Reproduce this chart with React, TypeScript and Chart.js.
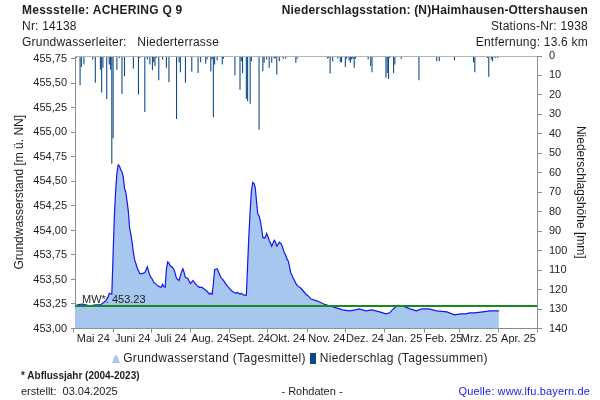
import React, { useEffect, useRef } from 'react';
import { Chart, registerables } from 'chart.js';

Chart.register(...registerables);

// Day offsets counted from 1 May 2024 (0 = 1 May 2024)
const monthStartDays = [0, 31, 61, 92, 123, 153, 184, 214, 245, 276, 304, 335, 365];
const monthLabels = ['Mai 24', 'Juni 24', 'Juli 24', 'Aug. 24', 'Sept. 24', 'Okt. 24', 'Nov. 24', 'Dez. 24', 'Jan. 25', 'Feb. 25', 'Mrz. 25', 'Apr. 25'];
const levelTicks = [453.0, 453.25, 453.5, 453.75, 454.0, 454.25, 454.5, 454.75, 455.0, 455.25, 455.5, 455.75];
const rainTicks = [0, 10, 20, 30, 40, 50, 60, 70, 80, 90, 100, 110, 120, 130, 140];
const MW = 453.23;

const gwDays = [1, 4, 7, 10, 13, 17, 21, 23, 25, 27, 28, 30, 31, 32, 33, 34, 35, 36, 37, 38, 39, 40, 41, 42, 43, 44, 45, 46, 47, 48, 49, 50, 51, 52, 54, 56, 57, 58, 59, 60, 62, 63, 65, 67, 69, 70, 71, 72, 73, 74, 75, 76, 78, 79, 80, 81, 83, 85, 86, 87, 88, 90, 91, 92, 94, 95, 97, 99, 101, 103, 105, 107, 108, 109, 110, 111, 113, 114, 116, 118, 120, 122, 124, 126, 128, 129, 131, 132, 134, 136, 137, 138, 139, 140, 141, 142, 143, 144, 145, 146, 147, 148, 149, 150, 151, 152, 153, 154, 155, 156, 157, 158, 159, 160, 161, 162, 163, 164, 165, 166, 167, 168, 169, 170, 171, 172, 173, 174, 175, 176, 177, 179, 181, 183, 185, 187, 192, 197, 202, 207, 212, 217, 222, 225, 230, 235, 241, 246, 249, 251, 255, 259, 265, 270, 274, 280, 286, 294, 300, 305, 309, 312, 316, 328, 335];
const gwLevels = [453.23, 453.245, 453.25, 453.24, 453.23, 453.24, 453.24, 453.26, 453.28, 453.32, 453.36, 453.35, 453.75, 454.14, 454.40, 454.58, 454.67, 454.66, 454.62, 454.60, 454.55, 454.43, 454.39, 454.30, 454.20, 454.03, 453.96, 453.88, 453.78, 453.70, 453.66, 453.62, 453.59, 453.56, 453.56, 453.57, 453.60, 453.63, 453.58, 453.54, 453.50, 453.47, 453.45, 453.43, 453.42, 453.45, 453.43, 453.42, 453.60, 453.68, 453.67, 453.64, 453.62, 453.60, 453.56, 453.51, 453.49, 453.58, 453.61, 453.57, 453.52, 453.51, 453.48, 453.46, 453.49, 453.47, 453.44, 453.42, 453.42, 453.40, 453.38, 453.35, 453.36, 453.35, 453.45, 453.60, 453.61, 453.58, 453.52, 453.49, 453.45, 453.42, 453.39, 453.37, 453.36, 453.37, 453.35, 453.36, 453.34, 453.34, 453.65, 453.95, 454.20, 454.40, 454.49, 454.48, 454.44, 454.30, 454.17, 454.15, 454.10, 454.02, 453.93, 453.92, 453.93, 453.97, 453.94, 453.90, 453.87, 453.84, 453.87, 453.90, 453.88, 453.84, 453.86, 453.88, 453.87, 453.85, 453.81, 453.77, 453.75, 453.71, 453.69, 453.63, 453.57, 453.54, 453.51, 453.49, 453.46, 453.44, 453.43, 453.41, 453.38, 453.35, 453.33, 453.30, 453.28, 453.25, 453.23, 453.21, 453.19, 453.18, 453.19, 453.20, 453.18, 453.19, 453.17, 453.15, 453.16, 453.19, 453.235, 453.23, 453.20, 453.18, 453.20, 453.20, 453.18, 453.17, 453.14, 453.15, 453.15, 453.16, 453.16, 453.18, 453.18];

const rainDays = [2, 5, 6, 8, 15, 17, 21, 22, 23, 26, 28, 29, 30, 31, 34, 36, 38, 40, 47, 51, 52, 56, 58, 60, 62, 63, 64, 65, 67, 70, 73, 75, 81, 83, 84, 88, 93, 98, 100, 104, 105, 108, 109, 110, 111, 113, 117, 118, 127, 131, 132, 133, 136, 137, 139, 140, 146, 149, 150, 152, 154, 156, 158, 159, 160, 162, 165, 167, 175, 176, 194, 197, 200, 201, 202, 204, 208, 210, 211, 214, 215, 217, 218, 219, 220, 221, 222, 228, 232, 234, 235, 236, 246, 247, 248, 249, 251, 252, 253, 258, 267, 272, 275, 284, 286, 288, 290, 300, 301, 313, 315, 316, 320, 326, 327, 329, 330, 332, 334];
const rainMm = [1.0, 15.0, 5.6, 4.4, 1.8, 13.8, 7.0, 18.7, 6.1, 22.1, 4.4, 7.0, 55.4, 42.2, 7.0, 1.0, 19.5, 10.4, 6.6, 19.8, 1.0, 28.8, 1.8, 4.4, 7.3, 3.2, 5.2, 1.0, 12.5, 1.8, 6.1, 13.5, 32.4, 3.2, 8.3, 13.8, 8.0, 8.7, 3.2, 4.0, 1.8, 8.0, 1.8, 31.5, 4.4, 2.2, 4.4, 1.4, 9.9, 17.3, 2.7, 8.7, 21.9, 23.3, 24.5, 2.7, 37.9, 7.8, 3.5, 1.8, 6.1, 3.5, 1.4, 1.0, 9.5, 2.7, 1.4, 1.4, 3.5, 1.4, 0.5, 0.5, 1.3, 1.0, 9.0, 2.7, 1.3, 3.2, 3.2, 5.6, 1.4, 2.3, 3.5, 1.8, 1.4, 6.1, 1.4, 0.3, 1.8, 5.2, 8.3, 0.5, 11.2, 8.7, 11.8, 1.0, 0.3, 8.7, 4.4, 1.4, 0.3, 12.5, 0.3, 0.3, 2.7, 2.7, 0.3, 2.2, 0.5, 0.3, 3.2, 8.3, 0.3, 1.0, 10.7, 1.8, 2.7, 1.0, 1.0];

const FONT = "'Liberation Sans', Arial, Helvetica, sans-serif";
const AXIS_GRAY = '#8c8c8c';
const TEXT = '#1e1e1e';
const GW_FILL = '#a7c7ee';
const GW_LINE = '#1515f0';
const RAIN = '#0b4a88';
const MW_GREEN = '#198a1e';

const topBorderAndLabel = {
  id: 'topBorderAndLabel',
  afterDatasetsDraw(chart: any) {
    const { ctx, chartArea, scales } = chart;
    ctx.save();
    ctx.strokeStyle = '#b4b4b4';
    ctx.lineWidth = 1;
    ctx.beginPath();
    ctx.moveTo(chartArea.left, Math.round(chartArea.top) + 0.5);
    ctx.lineTo(chartArea.right, Math.round(chartArea.top) + 0.5);
    ctx.stroke();
    const y = scales.y.getPixelForValue(MW);
    ctx.fillStyle = TEXT;
    ctx.font = `11px ${FONT}`;
    ctx.textAlign = 'left';
    ctx.textBaseline = 'alphabetic';
    ctx.fillText(`MW*: ${MW.toFixed(2)}`, chartArea.left + 7, y - 3);
    ctx.restore();
  },
};

export default function App() {
  const canvasRef = useRef<HTMLCanvasElement | null>(null);

  useEffect(() => {
    if (!canvasRef.current) return;
    Chart.defaults.font.family = FONT;
    const gwData = gwDays.map((d, i) => ({ x: d, y: gwLevels[i] }));
    const rainData = rainDays.map((d, i) => ({ x: d, y: rainMm[i] }));
    const chart = new Chart(canvasRef.current, {
      type: 'line',
      data: {
        datasets: [
          {
            type: 'bar',
            label: 'Niederschlag (Tagessummen)',
            data: rainData as any,
            xAxisID: 'x',
            yAxisID: 'y2',
            backgroundColor: RAIN,
            borderWidth: 0,
            barPercentage: 0.85,
            categoryPercentage: 1,
            order: 0,
          } as any,
          {
            type: 'line',
            label: 'MW',
            data: [{ x: monthStartDays[0] + 1, y: MW }, { x: monthStartDays[monthStartDays.length - 1], y: MW }],
            xAxisID: 'x',
            yAxisID: 'y',
            borderColor: MW_GREEN,
            borderWidth: 2,
            pointRadius: 0,
            fill: false,
            order: 1,
          },
          {
            type: 'line',
            label: 'Grundwasserstand (Tagesmittel)',
            data: gwData,
            xAxisID: 'x',
            yAxisID: 'y',
            borderColor: GW_LINE,
            borderWidth: 1.2,
            backgroundColor: GW_FILL,
            fill: 'start',
            pointRadius: 0,
            tension: 0,
            order: 2,
          },
        ],
      },
      options: {
        animation: false,
        responsive: false,
        devicePixelRatio: 1,
        layout: { padding: { top: 56, bottom: 51.5, left: 0, right: 0 } },
        plugins: { legend: { display: false }, tooltip: { enabled: false } },
        scales: {
          x: {
            type: 'linear',
            min: 1,
            max: 365,
            offset: false,
            afterBuildTicks: (s: any) => {
              s.ticks = monthStartDays.map((v) => ({ value: v }));
            },
            afterFit: (s: any) => {
              s.height = 20;
            },
            ticks: {
              autoSkip: false,
              maxRotation: 0,
              minRotation: 0,
              labelOffset: 19.6,
              padding: 0,
              color: TEXT,
              font: { size: 11, family: FONT },
              callback: (_v: any, i: number) => monthLabels[i] ?? '',
            },
            grid: { drawOnChartArea: false, drawTicks: true, tickLength: 4, color: AXIS_GRAY, offset: false },
            border: { color: AXIS_GRAY },
          },
          y: {
            type: 'linear',
            position: 'left',
            min: 453,
            max: 455.78,
            afterBuildTicks: (s: any) => {
              s.ticks = levelTicks.map((v) => ({ value: v }));
            },
            afterFit: (s: any) => {
              s.width = 75;
            },
            ticks: {
              padding: 4,
              color: TEXT,
              font: { size: 11, family: FONT },
              callback: (v: any) => Number(v).toFixed(2).replace('.', ','),
            },
            grid: { drawOnChartArea: false, drawTicks: true, tickLength: 4, color: AXIS_GRAY },
            border: { color: AXIS_GRAY },
            title: {
              display: true,
              text: 'Grundwasserstand [m ü. NN]',
              color: TEXT,
              font: { size: 12, family: FONT },
              padding: { top: 12, bottom: 0 },
            },
          },
          y2: {
            type: 'linear',
            position: 'right',
            min: 0,
            max: 140,
            reverse: true,
            afterBuildTicks: (s: any) => {
              s.ticks = rainTicks.map((v) => ({ value: v }));
            },
            afterFit: (s: any) => {
              s.width = 63;
            },
            ticks: {
              padding: 7,
              color: TEXT,
              font: { size: 11, family: FONT },
            },
            grid: { drawOnChartArea: false, drawTicks: true, tickLength: 5, color: AXIS_GRAY },
            border: { color: AXIS_GRAY },
            title: {
              display: true,
              text: 'Niederschlagshöhe [mm]',
              color: TEXT,
              font: { size: 12, family: FONT },
              padding: { top: 12, bottom: 0 },
            },
          },
        },
      } as any,
      plugins: [topBorderAndLabel],
    });
    return () => chart.destroy();
  }, []);

  const line = (extra: React.CSSProperties): React.CSSProperties => ({
    position: 'absolute',
    fontFamily: FONT,
    fontSize: 12,
    lineHeight: '14px',
    color: TEXT,
    whiteSpace: 'nowrap',
    letterSpacing: '0.22px',
    ...extra,
  });

  return (
    <div style={{ position: 'fixed', left: 0, top: 0, width: 600, height: 400, background: '#fff', overflow: 'hidden' }}>
      <canvas ref={canvasRef} width={600} height={400} style={{ position: 'absolute', left: 0, top: 0, width: 600, height: 400 }} />
      <div style={line({ left: 22, top: 3, fontWeight: 'bold', letterSpacing: '0.26px' })}>Messstelle: ACHERING Q 9</div>
      <div style={line({ left: 22, top: 19 })}>Nr: 14138</div>
      <div style={line({ left: 22, top: 35 })}>Grundwasserleiter:&nbsp;&nbsp; Niederterrasse</div>
      <div style={line({ right: 12, top: 3, fontWeight: 'bold', letterSpacing: '0.17px' })}>Niederschlagsstation: (N)Haimhausen-Ottershausen</div>
      <div style={line({ right: 12, top: 19 })}>Stations-Nr: 1938</div>
      <div style={line({ right: 12, top: 35 })}>Entfernung: 13.6 km</div>

      <div style={line({ left: 0, width: 600, top: 351, display: 'flex', justifyContent: 'center', alignItems: 'center', paddingRight: 8, letterSpacing: '0.33px' } as any)}>
        <svg width="8" height="9" viewBox="0 0 8 9" style={{ marginRight: 3 }}>
          <path d="M0 9 L2.6 2.2 Q4 0 5.4 2.2 L8 9 Z" fill={GW_FILL} />
        </svg>
        <span>Grundwasserstand (Tagesmittel)</span>
        <span style={{ display: 'inline-block', width: 6, height: 11, background: RAIN, marginLeft: 4, marginRight: 4 }} />
        <span>Niederschlag (Tagessummen)</span>
      </div>

      <div style={line({ left: 21, top: 369, fontSize: 10, fontWeight: 'bold', letterSpacing: '0px' })}>* Abflussjahr (2004-2023)</div>
      <div style={line({ left: 21, top: 384, fontSize: 11, letterSpacing: '0px' })}>erstellt:&nbsp;&nbsp;03.04.2025</div>
      <div style={line({ left: 262, width: 100, textAlign: 'center', top: 384, fontSize: 11, letterSpacing: '0px' })}>- Rohdaten -</div>
      <div style={line({ right: 10, top: 384, fontSize: 11, color: '#1a1aee', letterSpacing: '0.15px' })}>Quelle: www.lfu.bayern.de</div>
    </div>
  );
}
